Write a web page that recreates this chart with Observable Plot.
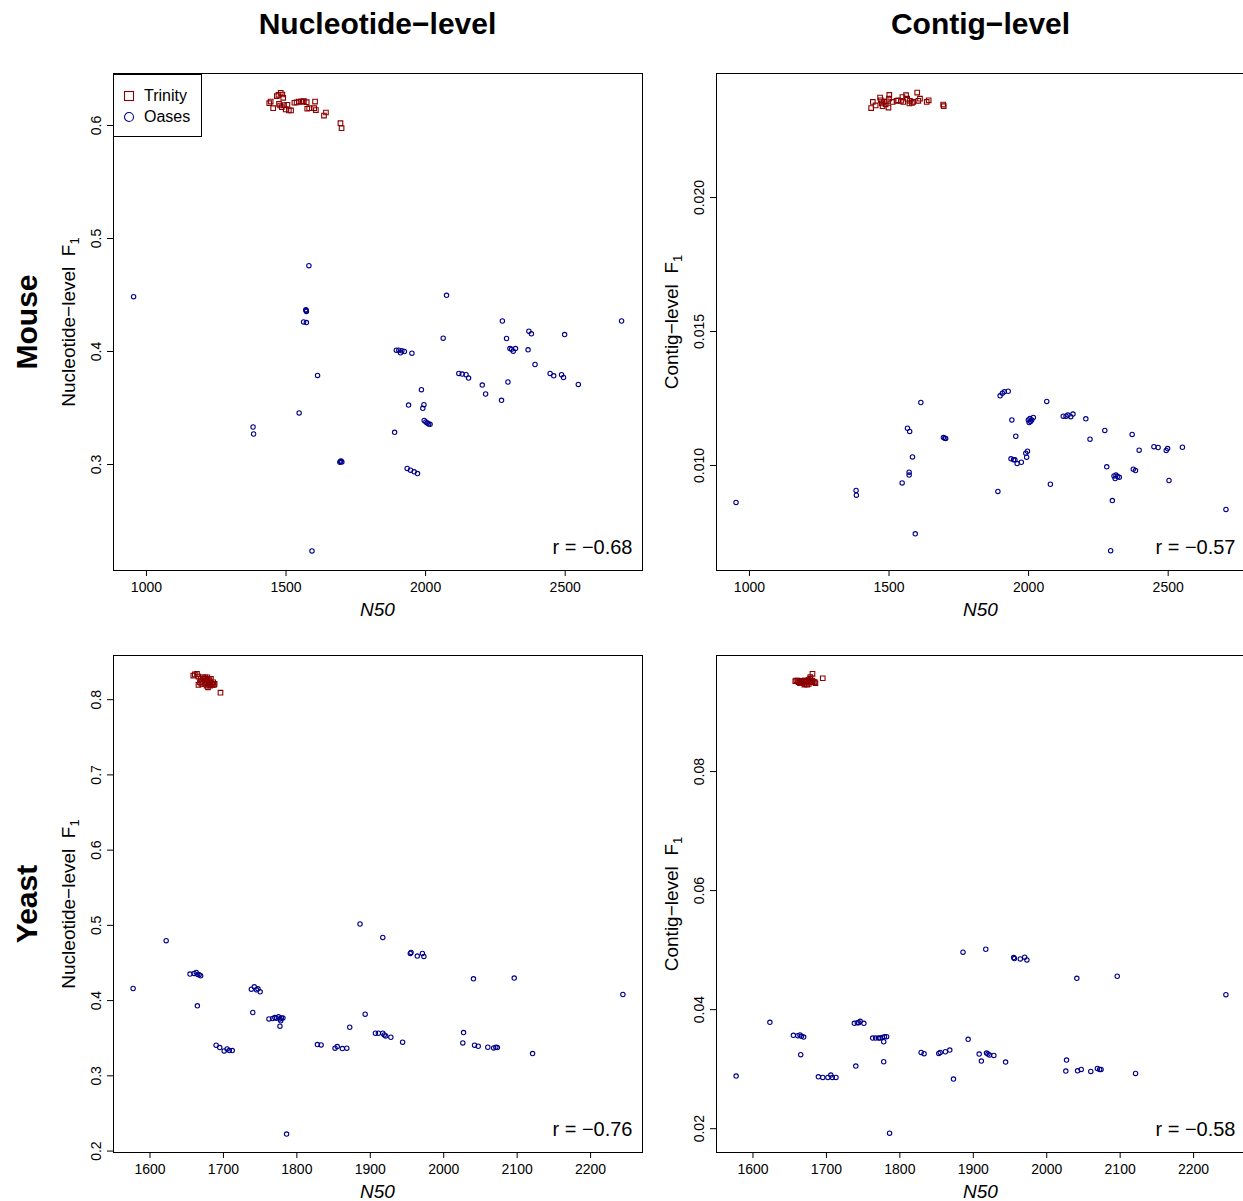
<!DOCTYPE html>
<html>
<head>
<meta charset="utf-8">
<script src="https://cdn.jsdelivr.net/npm/d3@7"></script>
<script src="https://cdn.jsdelivr.net/npm/@observablehq/plot@0.6"></script>
<style>
  html, body { margin: 0; padding: 0; background: white; overflow: hidden; }
  #root { position: relative; width: 1243px; height: 1201px; overflow: hidden; font-family: "Liberation Sans", Arial, Helvetica, sans-serif; color: black; }
  .abs { position: absolute; white-space: nowrap; line-height: 1; }
  .ctr { transform: translate(-50%, -50%); }
  .rot { transform: translate(-50%, -50%) rotate(-90deg); }
  .title { font-weight: bold; font-size: 30px; }
  .axlab { font-size: 19px; }
  .axlab sub { font-size: 13px; vertical-align: -4px; line-height: 0; }
  .legend { position: absolute; border: 1px solid black; background: white; box-sizing: border-box; }
</style>
</head>
<body>
<div id="root"></div>
<script>
// ---------- data ----------
const colTitles = ["Nucleotide\u2212level", "Contig\u2212level"];
const rowTitles = ["Mouse", "Yeast"];
const yLabels = ["Nucleotide\u2212level", "Contig\u2212level"];
const seriesNames = ["Trinity", "Oases"];
const rLabels = ["r = \u22120.68", "r = \u22120.57", "r = \u22120.76", "r = \u22120.58"];

const mouseTicksX = [1000, 1500, 2000, 2500];
const yeastTicksX = [1600, 1700, 1800, 1900, 2000, 2100, 2200];
const mouseNucTicksY = [0.3, 0.4, 0.5, 0.6];
const mouseConTicksY = [0.010, 0.015, 0.020];
const yeastNucTicksY = [0.2, 0.3, 0.4, 0.5, 0.6, 0.7, 0.8];
const yeastConTicksY = [0.02, 0.04, 0.06, 0.08];

// [N50, F1]
const mouseNucTrinity = [[1440,0.6197],[1445,0.6212],[1454,0.6153],[1467,0.6260],[1473,0.6271],[1481,0.6289],[1487,0.6274],[1490,0.6245],[1475,0.6192],[1479,0.6177],[1485,0.6162],[1493,0.6180],[1499,0.6142],[1505,0.6183],[1510,0.6133],[1518,0.6133],[1530,0.6201],[1538,0.6204],[1546,0.6212],[1554,0.6212],[1560,0.6212],[1564,0.6215],[1574,0.6206],[1576,0.6148],[1583,0.6153],[1601,0.6153],[1604,0.6212],[1607,0.6136],[1636,0.6088],[1643,0.6115],[1695,0.6020],[1699,0.5976]];
const mouseNucOases = [[954,0.4485],[1582,0.4759],[1571,0.4370],[1572,0.4362],[1573,0.4355],[1563,0.4262],[1573,0.4256],[1613,0.3788],[1547,0.3456],[1382,0.3332],[1384,0.3270],[1693,0.3020],[1695,0.3026],[1697,0.3030],[1700,0.3022],[1593,0.2235],[1889,0.3285],[1939,0.3526],[1985,0.3662],[1994,0.3529],[1990,0.3497],[1995,0.3390],[2001,0.3376],[2006,0.3368],[2011,0.3359],[2016,0.3356],[1934,0.2965],[1946,0.2950],[1959,0.2935],[1971,0.2920],[1895,0.4012],[1904,0.4012],[1910,0.3988],[1915,0.4006],[1924,0.4000],[1951,0.3985],[2063,0.4118],[2075,0.4497],[2119,0.3806],[2131,0.3800],[2145,0.3794],[2154,0.3765],[2203,0.3703],[2215,0.3624],[2272,0.3568],[2275,0.4270],[2290,0.4115],[2295,0.3730],[2302,0.4026],[2308,0.4020],[2314,0.4003],[2322,0.4026],[2367,0.4015],[2370,0.4180],[2379,0.4156],[2392,0.3885],[2446,0.3806],[2459,0.3785],[2487,0.3794],[2494,0.3770],[2498,0.4150],[2547,0.3709],[2702,0.4270]];

const mouseConTrinity = [[1436,0.02334],[1442,0.02357],[1452,0.02344],[1468,0.02373],[1471,0.02363],[1474,0.02351],[1477,0.02341],[1482,0.02357],[1488,0.02348],[1492,0.02359],[1498,0.02336],[1501,0.02383],[1500,0.02369],[1513,0.02357],[1527,0.02361],[1533,0.02363],[1543,0.02361],[1548,0.02375],[1551,0.02357],[1561,0.02382],[1565,0.02369],[1573,0.02351],[1575,0.02361],[1582,0.02353],[1587,0.02357],[1601,0.02392],[1605,0.02361],[1611,0.02369],[1635,0.02357],[1642,0.02363],[1694,0.02347],[1696,0.02341]];
const mouseConOases = [[952,0.00862],[1382,0.00907],[1383,0.00889],[1547,0.00935],[1566,0.01139],[1574,0.01127],[1572,0.00975],[1572,0.00964],[1584,0.01032],[1594,0.00745],[1614,0.01235],[1695,0.01104],[1700,0.01102],[1703,0.01101],[1890,0.00903],[1898,0.01260],[1906,0.01270],[1913,0.01275],[1927,0.01277],[1940,0.01170],[1937,0.01025],[1946,0.01021],[1951,0.01021],[1954,0.01109],[1959,0.01007],[1974,0.01012],[1993,0.01031],[1996,0.01053],[1990,0.01046],[1999,0.01170],[2005,0.01175],[2011,0.01170],[2002,0.01160],[2017,0.01179],[2007,0.01164],[2065,0.01239],[2078,0.00930],[2124,0.01184],[2134,0.01184],[2141,0.01188],[2151,0.01182],[2159,0.01192],[2205,0.01174],[2220,0.01098],[2273,0.01131],[2280,0.00995],[2300,0.00869],[2294,0.00682],[2306,0.00961],[2313,0.00964],[2319,0.00959],[2325,0.00956],[2310,0.00951],[2371,0.01116],[2375,0.00986],[2383,0.00981],[2396,0.01057],[2449,0.01070],[2464,0.01067],[2493,0.01056],[2498,0.01063],[2503,0.00944],[2551,0.01068],[2707,0.00836]];

const yeastNucTrinity = [[1659,0.8320],[1661,0.8335],[1664,0.8342],[1666,0.8307],[1668,0.8230],[1669,0.8276],[1671,0.8253],[1672,0.8297],[1673,0.8276],[1675,0.8297],[1675,0.8210],[1676,0.8253],[1677,0.8187],[1678,0.8297],[1678,0.8230],[1679,0.8164],[1680,0.8276],[1680,0.8210],[1681,0.8253],[1682,0.8230],[1682,0.8187],[1683,0.8276],[1684,0.8210],[1685,0.8196],[1686,0.8230],[1687,0.8196],[1688,0.8210],[1670,0.8210],[1666,0.8196],[1696,0.8093]];
const yeastNucOases = [[1577,0.4161],[1622,0.4796],[1654.5,0.4352],[1660,0.4361],[1663,0.4374],[1665,0.4348],[1667,0.4343],[1669,0.4330],[1664.5,0.3930],[1690,0.3407],[1695,0.3376],[1701,0.3331],[1705,0.3358],[1708,0.3336],[1712,0.3336],[1738,0.4152],[1742,0.4183],[1745,0.4143],[1747,0.4157],[1750,0.4117],[1740,0.3842],[1762,0.3757],[1767,0.3762],[1770,0.3775],[1772,0.3766],[1775,0.3784],[1777,0.3757],[1779,0.3770],[1781,0.3770],[1778,0.3731],[1777,0.3660],[1786,0.2226],[1828,0.3415],[1833,0.3411],[1852,0.3367],[1855,0.3389],[1862,0.3362],[1868,0.3367],[1872,0.3646],[1886,0.5018],[1893,0.3819],[1907,0.3566],[1911,0.3566],[1917,0.3566],[1919,0.3544],[1921,0.3531],[1928,0.3513],[1917,0.4840],[1944,0.3447],[1954.5,0.4627],[1955.5,0.4640],[1964,0.4592],[1971,0.4627],[1973,0.4587],[2026,0.3438],[2027,0.3575],[2040.5,0.4290],[2042,0.3407],[2047,0.3393],[2060,0.3380],[2068,0.3371],[2071,0.3380],[2073,0.3376],[2096,0.4299],[2121,0.3296],[2244,0.4081]];

const yeastConTrinity = [[1657.6,0.09518],[1659,0.09530],[1660.8,0.09530],[1662,0.09501],[1663.5,0.09513],[1665,0.09518],[1666.7,0.09518],[1668,0.09501],[1669,0.09501],[1670,0.09530],[1671,0.09530],[1672,0.09473],[1673.6,0.09518],[1674,0.09462],[1675.8,0.09541],[1676,0.09473],[1677,0.09501],[1678,0.09558],[1678,0.09585],[1679,0.09518],[1680.4,0.09530],[1681,0.09642],[1681,0.09518],[1682.6,0.09501],[1684,0.09501],[1685,0.09484],[1695,0.09568],[1667,0.09484],[1664,0.09484],[1670,0.09462]];
const yeastConOases = [[1577,0.02884],[1623,0.03787],[1655,0.03568],[1661,0.03562],[1664,0.03574],[1666,0.03551],[1669,0.03540],[1665,0.03243],[1689,0.02872],[1695,0.02861],[1702,0.02861],[1706,0.02900],[1708,0.02861],[1713,0.02861],[1738,0.03770],[1742,0.03781],[1744,0.03781],[1746,0.03804],[1751,0.03770],[1740,0.03052],[1763,0.03523],[1767,0.03523],[1771,0.03523],[1773,0.03523],[1776,0.03534],[1779,0.03546],[1782,0.03546],[1778,0.03461],[1778,0.03125],[1786,0.01924],[1829,0.03282],[1833,0.03260],[1853,0.03265],[1855,0.03282],[1862,0.03293],[1868,0.03321],[1873,0.02833],[1886,0.04965],[1893,0.03501],[1908,0.03254],[1911,0.03136],[1917,0.05015],[1918,0.03271],[1920,0.03254],[1922,0.03237],[1928,0.03231],[1944,0.03119],[1955,0.04875],[1956,0.04858],[1964,0.04853],[1970,0.04881],[1973,0.04836],[2026,0.02968],[2027,0.03153],[2041,0.04527],[2042,0.02973],[2047,0.02996],[2060,0.02962],[2069,0.03013],[2072,0.02996],[2074,0.02996],[2096,0.04561],[2121,0.02928],[2244,0.04252]];

// ---------- styling / layout ----------
const trinityColor = "#8B0000";
const oasesColor = "#00008B";
const FONT = "'Liberation Sans', Arial, Helvetica, sans-serif";
const boxW = 529, boxH = 497;
const mL = 100, mT = 20, mR = 20, mB = 40;

const root = document.getElementById("root");

function addText(html, x, y, cls) {
  const d = document.createElement("div");
  d.className = "abs " + cls;
  d.style.left = x + "px";
  d.style.top = y + "px";
  d.innerHTML = html;
  root.appendChild(d);
  return d;
}

function panel({boxLeft, boxTop, xDomain, yDomain, xTicks, yTicks, yFmt, trinity, oases, r}) {
  const svg = Plot.plot({
    width: boxW + mL + mR,
    height: boxH + mT + mB,
    marginLeft: mL, marginTop: mT, marginRight: mR, marginBottom: mB,
    style: {fontFamily: FONT, fontSize: "14px", background: "transparent", overflow: "visible", color: "black"},
    x: {domain: xDomain, ticks: xTicks, tickSize: 6, tickPadding: 6, tickFormat: d => String(d), label: null},
    y: {domain: yDomain, ticks: yTicks, tickSize: 6, tickFormat: () => "", label: null},
    marks: [
      Plot.frame({stroke: "black", strokeWidth: 1}),
      Plot.text(yTicks, {y: d => d, frameAnchor: "left", dx: -13, rotate: -90, textAnchor: "middle", lineAnchor: "bottom", text: yFmt, fontSize: 14, fill: "black"}),
      Plot.dot(oases, {x: d => d[0], y: d => d[1], r: 2.2, stroke: oasesColor, strokeWidth: 1.1, fill: "none"}),
      Plot.dot(trinity, {x: d => d[0], y: d => d[1], r: 2.6, symbol: "square", stroke: trinityColor, strokeWidth: 1.1, fill: "none"}),
      Plot.text([r], {frameAnchor: "bottom-right", dx: -10, dy: -17, text: d => d, textAnchor: "end", lineAnchor: "bottom", fontSize: 20, fill: "black"})
    ]
  });
  svg.style.position = "absolute";
  svg.style.left = (boxLeft - mL) + "px";
  svg.style.top = (boxTop - mT) + "px";
  svg.style.maxWidth = "none";
  root.appendChild(svg);
}

const topBox = 73, botBox = 655, leftBox = 113, rightBox = 716;
const mouseX = [882, 2777], yeastX = [1550.3, 2270.7];

panel({boxLeft: leftBox, boxTop: topBox, xDomain: mouseX, yDomain: [0.2062, 0.6460], xTicks: mouseTicksX, yTicks: mouseNucTicksY, yFmt: d => d.toFixed(1), trinity: mouseNucTrinity, oases: mouseNucOases, r: rLabels[0]});
panel({boxLeft: rightBox, boxTop: topBox, xDomain: mouseX, yDomain: [0.00608, 0.02463], xTicks: mouseTicksX, yTicks: mouseConTicksY, yFmt: d => d.toFixed(3), trinity: mouseConTrinity, oases: mouseConOases, r: rLabels[1]});
panel({boxLeft: leftBox, boxTop: botBox, xDomain: yeastX, yDomain: [0.1981, 0.8587], xTicks: yeastTicksX, yTicks: yeastNucTicksY, yFmt: d => d.toFixed(1), trinity: yeastNucTrinity, oases: yeastNucOases, r: rLabels[2]});
panel({boxLeft: rightBox, boxTop: botBox, xDomain: yeastX, yDomain: [0.0160, 0.0995], xTicks: yeastTicksX, yTicks: yeastConTicksY, yFmt: d => d.toFixed(2), trinity: yeastConTrinity, oases: yeastConOases, r: rLabels[3]});

// column titles
addText(colTitles[0], leftBox + boxW / 2, 24, "ctr title");
addText(colTitles[1], rightBox + boxW / 2, 24, "ctr title");
// row titles
addText(rowTitles[0], 27, topBox + boxH / 2, "rot title");
addText(rowTitles[1], 27, botBox + boxH / 2, "rot title");
// y axis labels and x axis labels
[[leftBox, topBox, 0], [rightBox, topBox, 1], [leftBox, botBox, 0], [rightBox, botBox, 1]].forEach(([bx, by, k]) => {
  addText(yLabels[k] + "&nbsp;&nbsp;F<sub>1</sub>", bx - 45, by + boxH / 2, "rot axlab");
  addText("<i>N50</i>", bx + boxW / 2, by + boxH + 39, "ctr axlab");
});

// legend
const leg = document.createElement("div");
leg.className = "legend";
Object.assign(leg.style, {left: "113px", top: "74px", width: "89px", height: "63px"});
const legItems = [
  {name: seriesNames[0], color: trinityColor, shape: "square", cy: 20.5},
  {name: seriesNames[1], color: oasesColor, shape: "circle", cy: 42}
];
legItems.forEach(it => {
  const s = document.createElementNS("http://www.w3.org/2000/svg", "svg");
  s.setAttribute("width", 12); s.setAttribute("height", 12);
  s.style.position = "absolute"; s.style.left = "9px"; s.style.top = (it.cy - 6) + "px";
  s.innerHTML = it.shape === "square"
    ? `<rect x="1.5" y="1.5" width="9" height="9" fill="none" stroke="${it.color}" stroke-width="1.1"/>`
    : `<circle cx="6" cy="6" r="4.5" fill="none" stroke="${it.color}" stroke-width="1.1"/>`;
  leg.appendChild(s);
  const t = document.createElement("div");
  t.className = "abs";
  Object.assign(t.style, {left: "30px", top: (it.cy - 8) + "px", fontSize: "16px"});
  t.textContent = it.name;
  leg.appendChild(t);
});
root.appendChild(leg);
</script>
</body>
</html>
